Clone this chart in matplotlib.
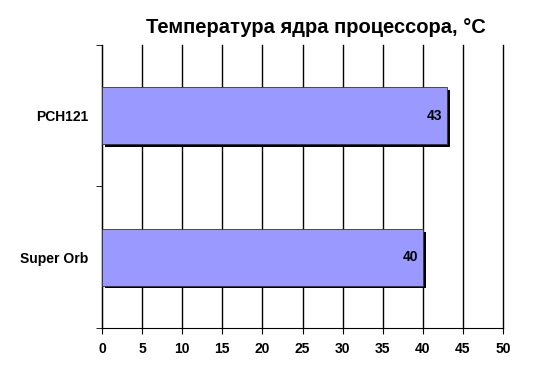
import matplotlib.pyplot as plt
import matplotlib.patheffects as pe
import numpy as np

plt.rcParams['font.family'] = ['Liberation Sans', 'DejaVu Sans']

categories = ['Super Orb', 'PCH121']
values = [40, 43]
xticks = [0, 5, 10, 15, 20, 25, 30, 35, 40, 45, 50]

fig = plt.figure(figsize=(5.5, 3.9), dpi=100)
ax = fig.add_axes([0.1855, 0.159, 0.729, 0.7256])

ypos = np.arange(len(categories)) + 0.5
bars = ax.barh(ypos, values, height=0.4, color='#9999ff', edgecolor='#333333',
               linewidth=0.6, zorder=3,
               path_effects=[pe.SimplePatchShadow(offset=(2, -2), shadow_rgbFace='black', alpha=1.0),
                             pe.Normal()])

for y, v in zip(ypos, values):
    ax.text(v - 0.6, y, str(v), ha='right', va='center', fontsize=10,
            fontweight='bold', zorder=4)

ax.set_xlim(0, 50)
ax.set_ylim(0, 2)
ax.set_xticks(xticks)
ax.set_xticklabels([str(t) for t in xticks], fontsize=10, fontweight='bold')
ax.set_yticks(ypos)
ax.set_yticklabels(categories, fontsize=10, fontweight='bold')
ax.tick_params(axis='y', length=0, pad=10)
ax.set_yticks([0, 1, 2], minor=True)
ax.tick_params(axis='y', which='minor', length=4, direction='out')
ax.tick_params(axis='x', length=4, direction='out', pad=6)

ax.grid(axis='x', color='black', linewidth=1, zorder=0)
for gl in ax.get_xgridlines():
    gl.set_clip_on(False)
for s in ['top', 'right']:
    ax.spines[s].set_visible(False)

fig.text(0.575, 0.93, 'Температура ядра процессора, °C', ha='center', va='center',
         fontsize=14.5, fontweight='bold')

fig.savefig('out.png', dpi=100)
